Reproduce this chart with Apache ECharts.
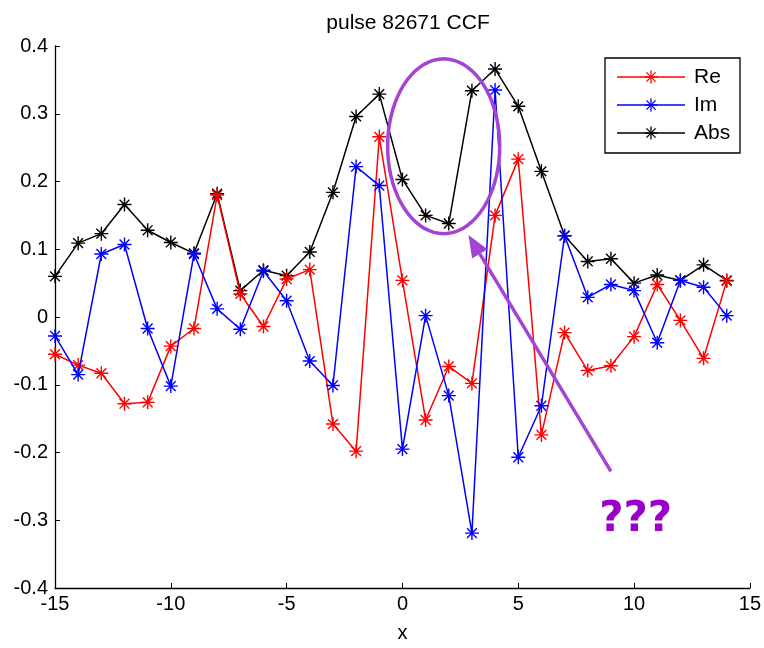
<!DOCTYPE html>
<html><head><meta charset="utf-8">
<script src="https://cdn.jsdelivr.net/npm/echarts@6/dist/echarts.min.js"></script>
<style>html,body{margin:0;padding:0;background:#fff}#c{width:764px;height:648px}</style>
</head><body><div id="c"></div>
<script>
var xs = [-15,-14,-13,-12,-11,-10,-9,-8,-7,-6,-5,-4,-3,-2,-1,0,1,2,3,4,5,6,7,8,9,10,11,12,13,14];
var reVals = [-0.055,-0.071,-0.083,-0.128,-0.126,-0.043,-0.017,0.180,0.034,-0.014,0.056,0.070,-0.158,-0.198,0.266,0.054,-0.152,-0.073,-0.098,0.150,0.233,-0.174,-0.023,-0.079,-0.072,-0.029,0.048,-0.005,-0.061,0.053];
var imVals = [-0.028,-0.085,0.093,0.107,-0.017,-0.102,0.093,0.012,-0.018,0.068,0.024,-0.065,-0.101,0.222,0.194,-0.195,0.002,-0.116,-0.319,0.335,-0.207,-0.131,0.120,0.029,0.048,0.039,-0.038,0.054,0.044,0.002];
var absVals = [0.060,0.109,0.123,0.166,0.128,0.110,0.094,0.182,0.039,0.069,0.061,0.096,0.184,0.296,0.329,0.203,0.150,0.138,0.334,0.366,0.311,0.215,0.120,0.082,0.086,0.050,0.062,0.054,0.077,0.054];
var seriesNames = ['Re','Im','Abs'];
var seriesColors = ['#ff0000','#0000ff','#000000'];
var xTicks = [-15,-10,-5,0,5,10,15];
var yTicks = [-0.4,-0.3,-0.2,-0.1,0,0.1,0.2,0.3,0.4];
var titleText = 'pulse 82671 CCF';
var xLabel = 'x';
var noteText = '???';

var star = 'path://M0,-10L0,10M-10,0L10,0M-7,-7L7,7M-7,7L7,-7';
function pairs(v){ return xs.map(function(x,i){ return [x, v[i]]; }); }
var FONT = '"Liberation Sans", Arial, Helvetica, sans-serif';
var chart = echarts.init(document.getElementById('c'), null, {renderer:'canvas'});
var allVals = [reVals, imVals, absVals];
var series = seriesNames.map(function(n,k){
  return {
    name:n, type:'line', data:pairs(allVals[k]), symbol:star, symbolSize:14,
    showAllSymbol:true, animation:false,
    lineStyle:{color:seriesColors[k], width:1.5},
    itemStyle:{color:seriesColors[k], borderColor:seriesColors[k], borderWidth:1.4},
    emphasis:{disabled:true}, z: (k===2?2:k+3)
  };
});
chart.setOption({
  animation:false,
  title:{text:titleText, left:403, top:8, textAlign:'center',
    textStyle:{fontFamily:FONT, fontSize:21, fontWeight:'normal', color:'#000'}},
  legend:{show:false},
  grid:{left:55, right:14, top:46, bottom:54, containLabel:false},
  xAxis:{type:'value', min:-15, max:15, interval:5,
    name:xLabel, nameLocation:'middle', nameGap:35,
    nameTextStyle:{fontFamily:FONT, fontSize:20, color:'#000'},
    axisLine:{onZero:false, lineStyle:{color:'#000', width:1.3}},
    axisTick:{inside:true, length:5, lineStyle:{color:'#000'}},
    axisLabel:{fontFamily:FONT, fontSize:20, color:'#000', margin:6},
    splitLine:{show:false}},
  yAxis:{type:'value', min:-0.4, max:0.4, interval:0.1,
    axisLine:{onZero:false, lineStyle:{color:'#000', width:1.3}},
    axisTick:{inside:true, length:5, lineStyle:{color:'#000'}},
    axisLabel:{fontFamily:FONT, fontSize:20, color:'#000', margin:7,
      formatter:function(v){ var r=Math.round(v*10)/10; return r===0?'0':String(r); }},
    splitLine:{show:false}},
  series: series
});

function px(x,y){ return chart.convertToPixel({gridIndex:0}, [x,y]); }
var g = [];
// legend box
var lb = {x:605, y:58, w:135, h:95};
g.push({type:'rect', shape:{x:lb.x, y:lb.y, width:lb.w, height:lb.h}, style:{fill:'#fff', stroke:'#000', lineWidth:1.3}, z:50});
seriesNames.forEach(function(n,k){
  var yy = lb.y + 19 + k*28;
  g.push({type:'line', shape:{x1:617,y1:yy,x2:685,y2:yy}, style:{stroke:seriesColors[k], lineWidth:1.5}, z:51});
  var r=6.5, d=4.6;
  [[0,-r,0,r],[-r,0,r,0],[-d,-d,d,d],[-d,d,d,-d]].forEach(function(s){
    g.push({type:'line', shape:{x1:651+s[0],y1:yy+s[1],x2:651+s[2],y2:yy+s[3]}, style:{stroke:seriesColors[k], lineWidth:1.3}, z:52});
  });
  g.push({type:'text', x:694, y:yy, style:{text:n, font:'21px ' + FONT, fill:'#000', verticalAlign:'middle', textVerticalAlign:'middle'}, z:52});
});
// annotations in data coords
var ec = px(1.78, 0.252), ex = px(1.78+2.42, 0.252), ey = px(1.78, 0.252+0.129);
var rx = ex[0]-ec[0], ry = ec[1]-ey[1];
var pts = [];
for (var i=0;i<=72;i++){ var t=i/72*Math.PI*2; pts.push([ec[0]+rx*Math.cos(t), ec[1]+ry*Math.sin(t)]); }
g.push({type:'polyline', shape:{points:pts}, style:{fill:null, stroke:'#a444d4', lineWidth:3.5}, z:60});
var a0 = px(9.0,-0.228), a1 = px(2.85,0.121);
var dx=a1[0]-a0[0], dy=a1[1]-a0[1], L=Math.sqrt(dx*dx+dy*dy), ux=dx/L, uy=dy/L;
var hl=22, hw=9;
var bx=a1[0]-ux*hl, by=a1[1]-uy*hl;
g.push({type:'line', shape:{x1:a0[0],y1:a0[1],x2:bx,y2:by}, style:{stroke:'#a444d4', lineWidth:3.5}, z:60});
g.push({type:'polygon', shape:{points:[[a1[0],a1[1]],[bx-uy*hw,by+ux*hw],[bx+uy*hw,by-ux*hw]]}, style:{fill:'#a444d4'}, z:60});
var tp = px(10.07,-0.3);
g.push({type:'text', x:tp[0], y:tp[1], style:{text:noteText, font:'bold 42px "DejaVu Sans", sans-serif', fill:'#9a00cc', align:'center', verticalAlign:'middle', textAlign:'center', textVerticalAlign:'middle'}, z:60});
chart.setOption({graphic:g});
</script></body></html>
